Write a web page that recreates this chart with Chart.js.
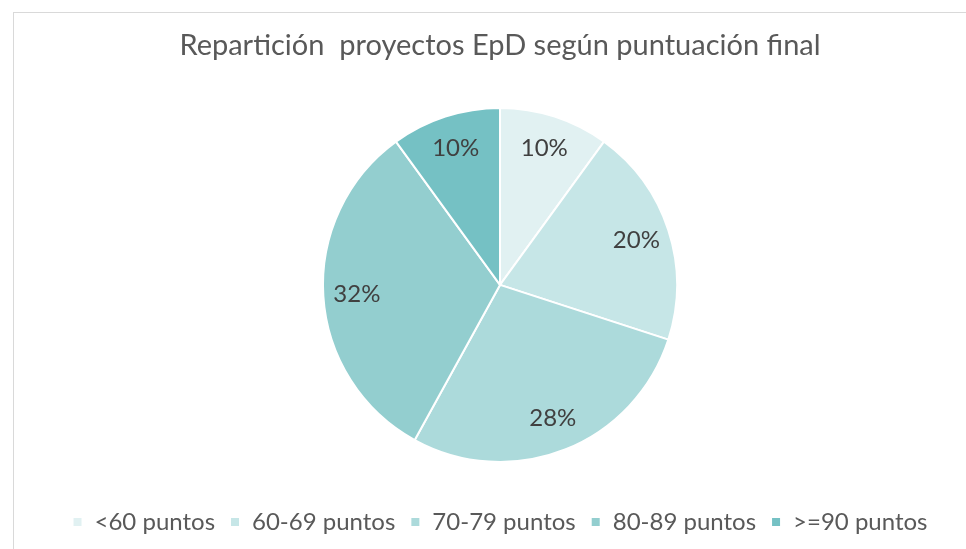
<!DOCTYPE html>
<html lang="es">
<head>
    <meta charset="UTF-8">
    <title>Repartición proyectos EpD</title>
    <script src="https://cdn.jsdelivr.net/npm/chart.js"></script>
    <style>
        html, body { margin: 0; padding: 0; background: #fff; overflow: hidden; }
        #frame {
            position: absolute; left: 13px; top: 12px;
            width: 1000px; height: 600px;
            border-left: 1px solid #d9d9d9; border-top: 1px solid #d9d9d9;
        }
        #wrap { position: absolute; left: 0; top: 0; width: 966px; height: 549px; }
    </style>
</head>
<body>
    <div id="frame"></div>
    <div id="wrap"><canvas id="pieChart"></canvas></div>

    <script>
        const categories = ['<60 puntos', '60-69 puntos', '70-79 puntos', '80-89 puntos', '>=90 puntos'];
        const shares = [10, 20, 28, 32, 10];
        const sliceColors = ['#e1f1f2', '#c6e6e7', '#acdadb', '#93cecf', '#75c1c4'];

        const fontFamily = 'Lato, "Open Sans", sans-serif';

        // draws the percentage inside each slice
        const sliceLabels = {
            id: 'sliceLabels',
            afterDatasetsDraw(chart) {
                const ctx = chart.ctx;
                const meta = chart.getDatasetMeta(0);
                ctx.save();
                ctx.font = '24px ' + fontFamily;
                ctx.fillStyle = '#404040';
                ctx.textAlign = 'center';
                ctx.textBaseline = 'middle';
                meta.data.forEach((arc, i) => {
                    const p = arc.getProps(['x', 'y', 'startAngle', 'endAngle', 'outerRadius'], true);
                    const mid = (p.startAngle + p.endAngle) / 2;
                    const r = p.outerRadius * 0.81;
                    ctx.fillText(shares[i] + '%', p.x + Math.cos(mid) * r, p.y + Math.sin(mid) * r);
                });
                ctx.restore();
            }
        };

        new Chart(document.getElementById('pieChart'), {
            type: 'pie',
            data: {
                labels: categories,
                datasets: [{
                    data: shares,
                    backgroundColor: sliceColors,
                    borderColor: '#ffffff',
                    borderWidth: 2,
                    radius: 177
                }]
            },
            options: {
                responsive: true,
                maintainAspectRatio: false,
                animation: false,
                layout: { padding: { top: 0, bottom: 5, left: 34, right: 0 } },
                plugins: {
                    title: {
                        display: true,
                        text: 'Repartición  proyectos EpD según puntuación final',
                        color: '#595959',
                        font: { family: fontFamily, size: 29, weight: 'normal' },
                        padding: { top: 28, bottom: 12 }
                    },
                    legend: {
                        position: 'bottom',
                        labels: {
                            color: '#595959',
                            font: { family: fontFamily, size: 24 },
                            boxWidth: 10,
                            boxHeight: 10,
                            padding: 15
                        }
                    },
                    tooltip: { enabled: false }
                }
            },
            plugins: [sliceLabels]
        });
    </script>
</body>
</html>
